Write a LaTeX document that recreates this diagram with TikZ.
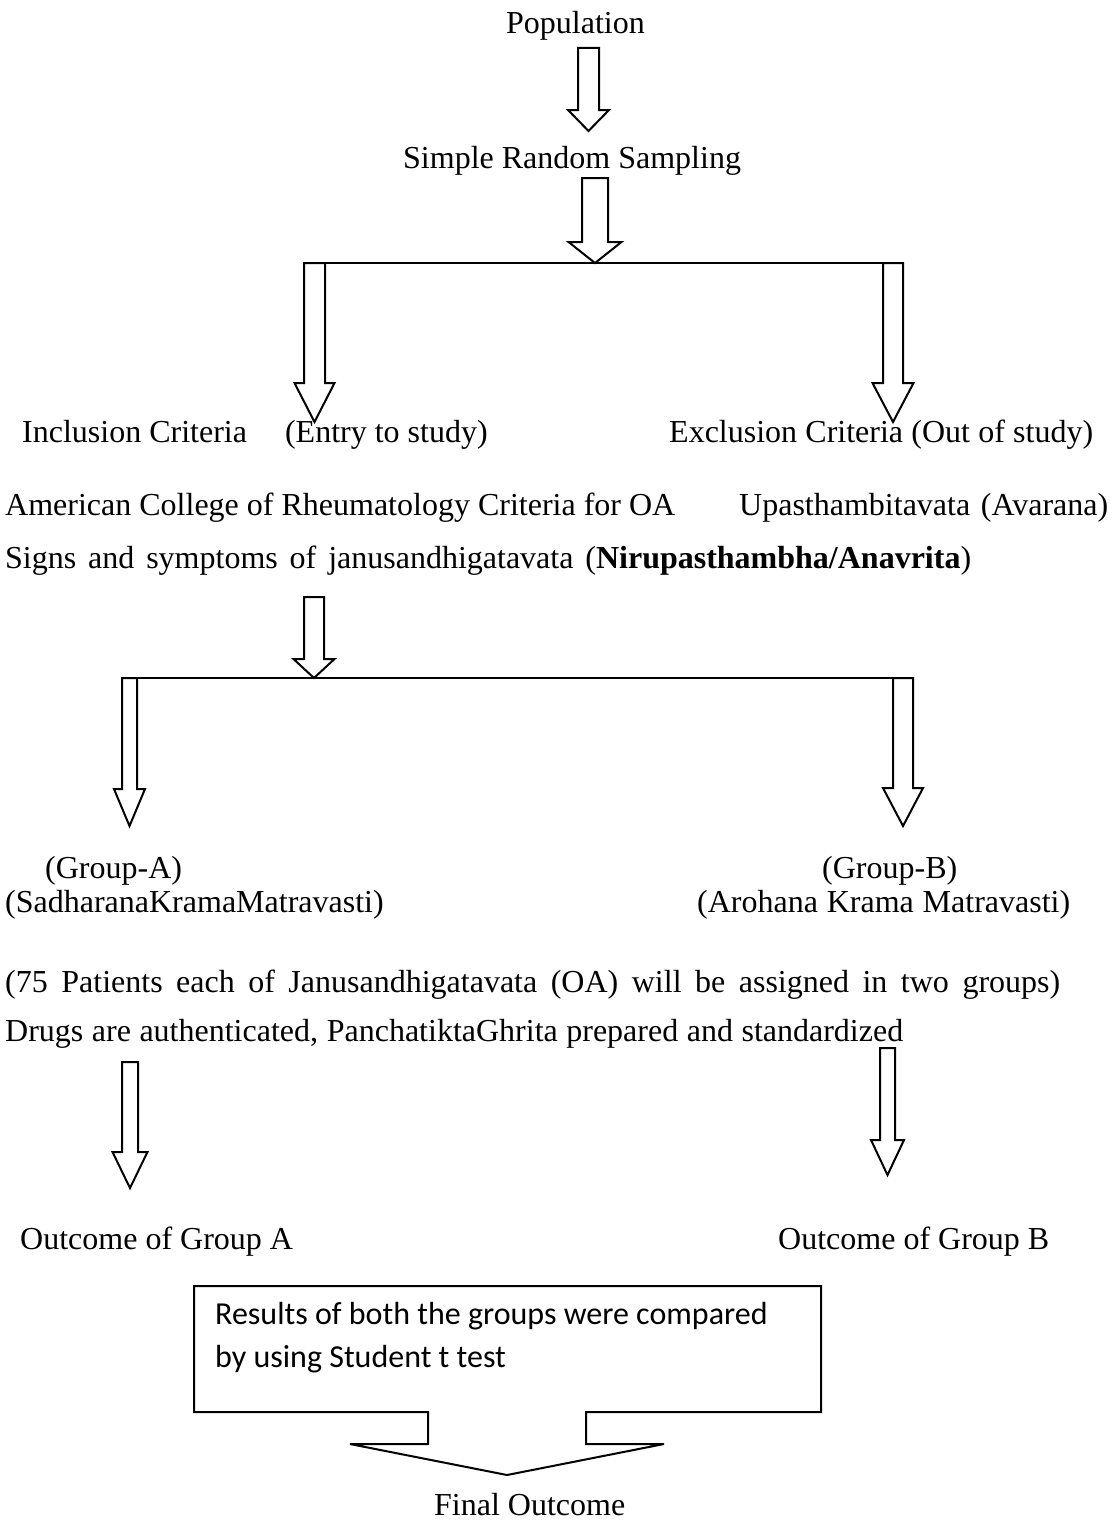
\documentclass[tikz,border=0pt]{standalone}
\usepackage{fontspec}
\setmainfont{Liberation Serif}
\newfontfamily\calibrifont{Carlito}
\usetikzlibrary{calc}

% hollow block arrow: top, tip, shaft half width, head half width, head length
\newcommand{\hollowarrow}[5]{%
  \draw[hollow] ($(#1)+(-#3,0)$) -- ($(#2)+(-#3,-#5)$) -- ($(#2)+(-#4,-#5)$)
    -- (#2) -- ($(#2)+(#4,-#5)$) -- ($(#2)+(#3,-#5)$) -- ($(#1)+(#3,0)$) -- cycle;}
% line of text spread to a given width
\newcommand{\spread}[2]{\makebox[#1][s]{#2}}

\begin{document}
\begin{tikzpicture}[x=1pt, y=-1pt,
  txt/.style={anchor=base west, inner sep=0pt, font=\fontsize{32}{36}\selectfont},
  boxtxt/.style={anchor=base west, inner sep=0pt, align=left,
                 font=\calibrifont\fontsize{32}{43}\selectfont},
  hollow/.style={draw, line width=2pt, fill=white, line join=miter},
  branch/.style={draw, line width=2pt},
]
  \useasboundingbox (0,0) rectangle (1114,1528);

  % text lines
  \node[txt] (pop) at (506,34) {Population};
  \node[txt] (srs) at (403,168) {Simple Random Sampling};
  \node[txt] (incl) at (22,442) {Inclusion Criteria\hspace{30pt} (Entry to study)};
  \node[txt] (excl) at (669,442) {\spread{424pt}{Exclusion Criteria (Out of study)}};
  \node[txt] (acr) at (5,515) {American College of Rheumatology Criteria for OA};
  \node[txt] (upa) at (739,515) {\spread{369pt}{Upasthambitavata (Avarana)}};
  \node[txt] (signs) at (5,568) {\spread{966pt}{Signs and symptoms of janusandhigatavata (\textbf{Nirupasthambha/Anavrita})}};
  \node[txt] (grpa) at (45,878) {(Group-A)};
  \node[txt] (grpb) at (822,878) {(Group-B)};
  \node[txt] (sadh) at (5,912) {(SadharanaKramaMatravasti)};
  \node[txt] (aroh) at (697,912) {\spread{373pt}{(Arohana Krama Matravasti)}};
  \node[txt] (pat) at (5,992) {\spread{1055pt}{(75 Patients each of Janusandhigatavata (OA) will be assigned in two groups)}};
  \node[txt] (drugs) at (5,1041) {\spread{898pt}{Drugs are authenticated, PanchatiktaGhrita prepared and standardized}};
  \node[txt] (outa) at (20,1249) {Outcome of Group A};
  \node[txt] (outb) at (778,1249) {Outcome of Group B};
  \node[txt] (final) at (434,1515) {Final Outcome};

  % arrow ends
  \coordinate (a1top) at (588.5,48);  \coordinate (a1tip) at (588.5,131);
  \coordinate (a2top) at (595,178);   \coordinate (a2tip) at (595,263);
  \coordinate (b1l) at (304,263);     \coordinate (b1r) at (903,263);
  \coordinate (c1top) at (314.5,263); \coordinate (c1tip) at (314.5,422);
  \coordinate (d1top) at (893,263);   \coordinate (d1tip) at (893,422);
  \coordinate (a3top) at (314,597);   \coordinate (a3tip) at (314,678);
  \coordinate (b2l) at (122,678);     \coordinate (b2r) at (913,678);
  \coordinate (c2top) at (129.5,678); \coordinate (c2tip) at (129.5,826);
  \coordinate (d2top) at (903,678);   \coordinate (d2tip) at (903,826);
  \coordinate (e1top) at (130,1062);  \coordinate (e1tip) at (130,1188);
  \coordinate (e2top) at (887.5,1048); \coordinate (e2tip) at (887.5,1175);

  \hollowarrow{a1top}{a1tip}{10.5}{20.5}{21}
  \hollowarrow{a2top}{a2tip}{13}{26.5}{21}
  \hollowarrow{c1top}{c1tip}{10.5}{20}{39}
  \hollowarrow{d1top}{d1tip}{10}{20.5}{39}
  \draw[branch] (b1l) -- (b1r);

  \hollowarrow{a3top}{a3tip}{10}{20.5}{19}
  \hollowarrow{c2top}{c2tip}{7.5}{15.5}{37}
  \hollowarrow{d2top}{d2tip}{10}{20}{38}
  \draw[branch] (b2l) -- (b2r);

  \hollowarrow{e1top}{e1tip}{8}{17.5}{36}
  \hollowarrow{e2top}{e2tip}{7.5}{16.5}{35}

  % results box with its arrow
  \coordinate (boxnw) at (194,1286);
  \coordinate (boxse) at (821,1412);
  \coordinate (ftip) at (507,1475);
  \draw[hollow] (428,1412) -- (boxnw |- boxse) -- (boxnw) -- (boxse |- boxnw)
    -- (boxse) -- (586,1412) -- (586,1444) -- (664,1444) -- (ftip)
    -- (350,1444) -- (428,1444) -- cycle;
  \node[boxtxt] (res) at (215,1367) {Results of both the groups were compared\\by using Student t test};
\end{tikzpicture}
\end{document}
